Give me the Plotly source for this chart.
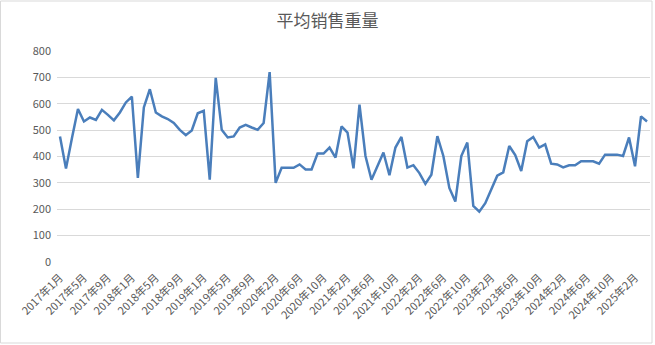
import plotly.graph_objects as go

# Categories: monthly from 2017年1月 to 2025年4月, 2020年1月 missing
categories = []
for y in range(2017, 2026):
    for m in range(1, 13):
        if y == 2020 and m == 1:
            continue
        if y == 2025 and m > 4:
            break
        categories.append(f"{y}年{m}月")

values = [
    476, 354, 470, 580, 533, 548, 539, 577, 558, 537, 567, 605, 627,   # 2017/1 - 2018/1
    319, 586, 655, 567, 552, 542, 527, 501, 481, 499, 564, 573,        # 2018/2 - 2019/1
    312, 698, 501, 472, 476, 510, 520, 510, 501, 527, 720,             # 2019/2 - 2019/12
    300, 357, 357, 357, 370, 351, 351, 411, 411, 434, 396,             # 2020/2 - 2020/12
    514, 491, 355, 597, 402, 312, 363, 415, 329, 434, 474, 358,        # 2021
    367, 337, 296, 331, 477, 402, 281, 229, 402, 453, 213, 191,        # 2022
    223, 276, 327, 340, 440, 405, 345, 458, 474, 434, 446, 373,        # 2023
    370, 359, 367, 367, 382, 382, 382, 373, 407, 407, 407, 402,        # 2024
    472, 363, 552, 533,                                                # 2025/1 - 2025/4
]

tick_labels = categories[::4]

title_text = "平均销售重量"
y_ticks = list(range(0, 801, 100))

fig = go.Figure()
fig.add_trace(go.Scatter(
    x=categories, y=values, mode="lines",
    line=dict(color="#4A7EBB", width=2.5),
    hoverinfo="x+y",
))

W, H = 655, 345
L, R, T, B = 57, 5, 51, 83
pw, ph = W - L - R, H - T - B

font_family = "Noto Sans CJK SC"
fig.update_layout(
    width=W, height=H,
    margin=dict(l=L, r=R, t=T, b=B),
    paper_bgcolor="white", plot_bgcolor="white",
    showlegend=False,
    title=dict(text=title_text, x=0.5, xanchor="center", y=1 - 21 / H, yanchor="middle",
               font=dict(family=font_family, size=17, color="#595959")),
    font=dict(family=font_family, size=11, color="#595959"),
)
fig.update_xaxes(
    type="category", categoryorder="array", categoryarray=categories,
    tickmode="array", tickvals=tick_labels, ticktext=tick_labels,
    tickangle=-45, showgrid=False, showline=False, ticks="",
    range=[-0.5, len(categories) - 0.5], automargin=False,
    ticklabelstandoff=6,
    tickfont=dict(family=font_family, size=11, color="#595959"),
)
fig.update_yaxes(
    range=[0, 800], tickvals=y_ticks, showgrid=True, gridcolor="#D9D9D9",
    gridwidth=1, zeroline=False, showline=False, ticks="", automargin=False,
    ticklabelstandoff=5,
    tickfont=dict(family=font_family, size=11, color="#595959"),
)
# chart area border
fig.add_shape(type="rect", xref="paper", yref="paper",
              x0=-(L - 0.5) / pw, x1=1 + (R - 3) / pw,
              y0=-(B - 2) / ph, y1=1 + (T - 1) / ph,
              line=dict(color="#D9D9D9", width=1), fillcolor="rgba(0,0,0,0)")

fig.write_html("out.html", config={"displayModeBar": False},
               post_script="document.body.style.margin='0';")
